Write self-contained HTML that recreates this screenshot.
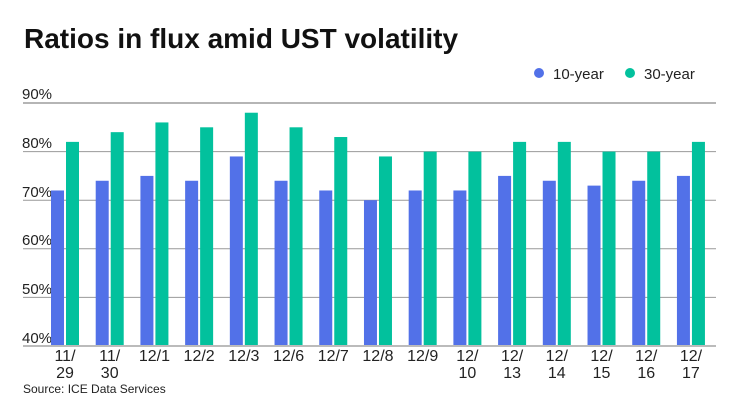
<!DOCTYPE html>
<html><head><meta charset="utf-8"><style>
html,body{margin:0;padding:0;background:#fff;}
svg{display:block;}
text{font-family:"Liberation Sans",sans-serif;}
</style></head><body>
<svg width="740" height="416" viewBox="0 0 740 416" xmlns="http://www.w3.org/2000/svg">
<rect width="740" height="416" fill="#fff"/>
<text x="24" y="48" font-size="28" font-weight="bold" fill="#111">Ratios in flux amid UST volatility</text>
<circle cx="539" cy="73" r="5" fill="#5271e8"/>
<text x="553" y="79" font-size="15" fill="#222">10-year</text>
<circle cx="630" cy="73" r="5" fill="#02c19d"/>
<text x="644" y="79" font-size="15" fill="#222">30-year</text>
<g stroke-width="1">
<line x1="23" x2="716" y1="103" y2="103" stroke="#b5b5b5" stroke-width="2"/>
<line x1="23" x2="716" y1="151.6" y2="151.6" stroke="#999"/>
<line x1="23" x2="716" y1="200.2" y2="200.2" stroke="#999"/>
<line x1="23" x2="716" y1="248.8" y2="248.8" stroke="#999"/>
<line x1="23" x2="716" y1="297.4" y2="297.4" stroke="#999"/>
</g>
<g font-size="15" fill="#222">
<text x="22" y="99">90%</text>
<text x="22" y="148">80%</text>
<text x="22" y="197">70%</text>
<text x="22" y="245">60%</text>
<text x="22" y="294">50%</text>
<text x="22" y="343">40%</text>
</g>
<g fill="#5271e8">
<rect x="51" y="190.48" width="13" height="155.52"/>
<rect x="95.71" y="180.76" width="13" height="165.24"/>
<rect x="140.42" y="175.9" width="13" height="170.1"/>
<rect x="185.13" y="180.76" width="13" height="165.24"/>
<rect x="229.84" y="156.46" width="13" height="189.54"/>
<rect x="274.55" y="180.76" width="13" height="165.24"/>
<rect x="319.26" y="190.48" width="13" height="155.52"/>
<rect x="363.97" y="200.2" width="13" height="145.8"/>
<rect x="408.68" y="190.48" width="13" height="155.52"/>
<rect x="453.39" y="190.48" width="13" height="155.52"/>
<rect x="498.1" y="175.9" width="13" height="170.1"/>
<rect x="542.81" y="180.76" width="13" height="165.24"/>
<rect x="587.52" y="185.62" width="13" height="160.38"/>
<rect x="632.23" y="180.76" width="13" height="165.24"/>
<rect x="676.94" y="175.9" width="13" height="170.1"/>
</g>
<g fill="#02c19d">
<rect x="66" y="141.88" width="13" height="204.12"/>
<rect x="110.71" y="132.16" width="13" height="213.84"/>
<rect x="155.42" y="122.44" width="13" height="223.56"/>
<rect x="200.13" y="127.3" width="13" height="218.7"/>
<rect x="244.84" y="112.72" width="13" height="233.28"/>
<rect x="289.55" y="127.3" width="13" height="218.7"/>
<rect x="334.26" y="137.02" width="13" height="208.98"/>
<rect x="378.97" y="156.46" width="13" height="189.54"/>
<rect x="423.68" y="151.6" width="13" height="194.4"/>
<rect x="468.39" y="151.6" width="13" height="194.4"/>
<rect x="513.1" y="141.88" width="13" height="204.12"/>
<rect x="557.81" y="141.88" width="13" height="204.12"/>
<rect x="602.52" y="151.6" width="13" height="194.4"/>
<rect x="647.23" y="151.6" width="13" height="194.4"/>
<rect x="691.94" y="141.88" width="13" height="204.12"/>
</g>
<line x1="23" x2="716" y1="346" y2="346" stroke="#bbb" stroke-width="2"/>
<g font-size="16" fill="#222" text-anchor="middle">
<text x="65" y="361">11/</text><text x="65" y="378">29</text>
<text x="109.71" y="361">11/</text><text x="109.71" y="378">30</text>
<text x="154.42" y="361">12/1</text>
<text x="199.13" y="361">12/2</text>
<text x="243.84" y="361">12/3</text>
<text x="288.55" y="361">12/6</text>
<text x="333.26" y="361">12/7</text>
<text x="377.97" y="361">12/8</text>
<text x="422.68" y="361">12/9</text>
<text x="467.39" y="361">12/</text><text x="467.39" y="378">10</text>
<text x="512.1" y="361">12/</text><text x="512.1" y="378">13</text>
<text x="556.81" y="361">12/</text><text x="556.81" y="378">14</text>
<text x="601.52" y="361">12/</text><text x="601.52" y="378">15</text>
<text x="646.23" y="361">12/</text><text x="646.23" y="378">16</text>
<text x="690.94" y="361">12/</text><text x="690.94" y="378">17</text>
</g>
<text x="23" y="393" font-size="12" fill="#222">Source: ICE Data Services</text>
</svg>
</body></html>
